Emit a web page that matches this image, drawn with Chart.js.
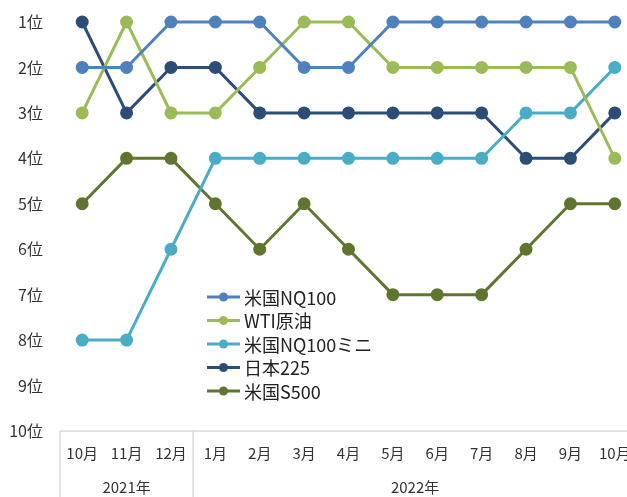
<!DOCTYPE html>
<html>
<head>
<meta charset="utf-8">
<script src="https://cdn.jsdelivr.net/npm/chart.js@4"></script>
<style>
  html, body { margin: 0; padding: 0; background: #fff; overflow: hidden; }
  canvas { display: block; }
</style>
</head>
<body>
<canvas id="rankChart" width="660" height="497"></canvas>
<script>
// categories
const months = ['10月', '11月', '12月', '1月', '2月', '3月', '4月', '5月', '6月', '7月', '8月', '9月', '10月'];
const years = [{ label: '2021年', from: 0, to: 2 }, { label: '2022年', from: 3, to: 12 }];

// rank series (1 = top)
const nq100     = [2, 2, 1, 1, 1, 2, 2, 1, 1, 1, 1, 1, 1];
const wti       = [3, 1, 3, 3, 2, 1, 1, 2, 2, 2, 2, 2, 4];
const nq100mini = [8, 8, 6, 4, 4, 4, 4, 4, 4, 4, 3, 3, 2];
const nikkei225 = [1, 3, 2, 2, 3, 3, 3, 3, 3, 3, 4, 4, 3];
const sp500     = [5, 4, 4, 5, 6, 5, 6, 7, 7, 7, 6, 5, 5];

const seriesNames = ['米国NQ100', 'WTI原油', '米国NQ100ミニ', '日本225', '米国S500'];
const seriesData = [nq100, wti, nq100mini, nikkei225, sp500];
const seriesColors = ['#4f81bd', '#9bbb59', '#4bacc6', '#2c4d75', '#5f7530'];

const FONT = '"Noto Sans CJK JP", "Noto Sans", sans-serif';

// axis separators, year labels and legend
const decorPlugin = {
    id: 'decor',
    afterDraw(chart) {
        const ctx = chart.ctx;
        const area = chart.chartArea;
        const x = chart.scales.x;
        const bottom = chart.height;

        ctx.save();
        ctx.strokeStyle = '#d9d9d9';
        ctx.lineWidth = 1.5;
        ctx.beginPath();
        ctx.moveTo(area.left, area.bottom);
        ctx.lineTo(area.right, area.bottom);
        ctx.moveTo(area.left, area.bottom);
        ctx.lineTo(area.left, bottom);
        const sep = (x.getPixelForValue(2) + x.getPixelForValue(3)) / 2;
        ctx.moveTo(sep, area.bottom);
        ctx.lineTo(sep, bottom);
        ctx.stroke();

        ctx.fillStyle = '#333';
        ctx.font = '15px ' + FONT;
        ctx.textAlign = 'center';
        ctx.textBaseline = 'middle';
        years.forEach((y, i) => {
            const left = i === 0 ? area.left : sep;
            const right = i === 0 ? sep : area.right;
            ctx.fillText(y.label, (left + right) / 2, 487);
        });

        // legend
        ctx.font = '18px ' + FONT;
        ctx.textAlign = 'left';
        chart.data.datasets.forEach((ds, i) => {
            const ly = 297 + i * 23.5;
            ctx.strokeStyle = ds.borderColor;
            ctx.lineWidth = 3;
            ctx.beginPath();
            ctx.moveTo(207, ly);
            ctx.lineTo(240, ly);
            ctx.stroke();
            ctx.fillStyle = ds.borderColor;
            ctx.beginPath();
            ctx.arc(223.5, ly, 4.5, 0, Math.PI * 2);
            ctx.fill();
            ctx.fillStyle = '#222';
            ctx.fillText(ds.label, 244, ly + 1);
        });
        ctx.restore();
    }
};

const ctx = document.getElementById('rankChart').getContext('2d');

const rankChart = new Chart(ctx, {
    type: 'line',
    data: {
        labels: months,
        datasets: seriesNames.map((name, i) => ({
            label: name,
            data: seriesData[i],
            borderColor: seriesColors[i],
            backgroundColor: seriesColors[i],
            borderWidth: 3,
            pointRadius: 5,
            pointHoverRadius: 5,
            tension: 0,
            clip: false
        }))
    },
    options: {
        responsive: false,
        animation: false,
        layout: { padding: { top: 22, left: 0, right: 23, bottom: 0 } },
        plugins: {
            legend: { display: false },
            tooltip: { enabled: false }
        },
        scales: {
            x: {
                offset: true,
                grid: { display: false },
                border: { display: false },
                ticks: {
                    color: '#333',
                    font: { size: 15, family: FONT },
                    padding: 5,
                    maxRotation: 0,
                    autoSkip: false
                },
                afterFit(scale) { scale.height = 66; }
            },
            y: {
                reverse: true,
                min: 1,
                max: 10,
                grid: { display: false },
                border: { display: false },
                ticks: {
                    stepSize: 1,
                    color: '#333',
                    font: { size: 16, family: FONT },
                    padding: 9,
                    callback: v => v + '位'
                },
                afterFit(scale) { scale.width = 60; }
            }
        }
    },
    plugins: [decorPlugin]
});
</script>
</body>
</html>
